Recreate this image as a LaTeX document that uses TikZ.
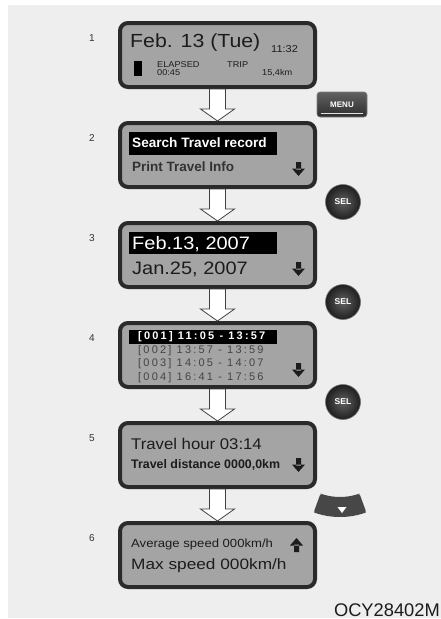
\documentclass[tikz,border=0pt]{standalone}
\usepackage{fontspec}
\setmainfont{Liberation Sans}
\newfontfamily\spacedfont[LetterSpace=20]{Liberation Sans}
\usetikzlibrary{calc,shadings}
\definecolor{bggray}{HTML}{EEEEEE}
\definecolor{lcdfill}{HTML}{A4A4A4}
\definecolor{lcdborder}{HTML}{2A2A2A}
\definecolor{ink}{HTML}{1C1C1C}
\definecolor{ink2}{HTML}{333333}
\definecolor{dimink}{HTML}{444444}
\newcommand\lcddown[2]{\fill[ink] (#1+4,#2) rectangle (#1+9,#2+7.5) (#1,#2+6.5) -- (#1+13,#2+6.5) -- (#1+6.5,#2+14) -- cycle;}
\newcommand\lcdup[2]{\fill[ink] (#1+6.5,#2) -- (#1+13,#2+7.5) -- (#1,#2+7.5) -- cycle (#1+4,#2+6.5) rectangle (#1+9,#2+14);}
\tikzset{
  lcd/.style={draw=lcdborder, line width=4pt, fill=lcdfill, rounded corners=8pt,
    minimum width=195pt, minimum height=64pt, inner sep=0pt},
  t/.style={anchor=base west, inner sep=0pt, text=ink},
  f/.style 2 args={font=\fontsize{#1}{#1}\selectfont, xscale=#2},
  numlbl/.style={inner sep=0pt, text=ink2, font=\fontsize{10}{10}\selectfont},
  hollowarr/.style={draw=black!75, fill=white, line width=0.8pt, line join=miter},
  selbtn/.style={circle, minimum size=35pt, inner sep=0pt, shading=radial,
    inner color=black!62, outer color=black!88, draw=black!55, line width=0.6pt,
    text=white, font=\bfseries\fontsize{8.5}{8.5}\selectfont},
  menubtn/.style={rectangle, rounded corners=3pt, minimum width=50pt, minimum height=25pt,
    inner sep=0pt, top color=black!62, bottom color=black!82, draw=black!50, line width=0.6pt,
    text=white, font=\bfseries\fontsize{8}{8}\selectfont},
}
\begin{document}
\begin{tikzpicture}[x=1pt, y=-1pt]
\useasboundingbox (0,0) rectangle (441,619);
\fill[white] (0,0) rectangle (441,619);
\fill[bggray] (8,5) rectangle (441,618);

% displays
\foreach \i/\cy in {1/55,2/155,3/255,4/355,5/455,6/555}{
  \node[lcd] (d\i) at (217.5,\cy) {};
}
% hollow arrows between displays
\foreach \a/\b in {d1/d2,d2/d3,d3/d4,d4/d5,d5/d6}{
  \draw[hollowarr] let \p1=(\a.south), \p2=(\b.north) in
    (\x1-8pt,\y1) -- (\x1-8pt,\y2+12pt) -- (\x1-17pt,\y2+12pt) -- (\x1,\y2)
    -- (\x1+17pt,\y2+12pt) -- (\x1+8pt,\y2+12pt) -- (\x1+8pt,\y1) -- cycle;
}

% step numbers
\node[numlbl] (n1) at (92,38) {1};
\node[numlbl] (n2) at (92,138) {2};
\node[numlbl] (n3) at (92,238) {3};
\node[numlbl] (n4) at (92,338) {4};
\node[numlbl] (n5) at (92,438) {5};
\node[numlbl] (n6) at (92,538) {6};

% display 1
\node[t, f={19}{1.12}] (t1a) at (130,47) {Feb. 13 (Tue)};
\node[t, f={10}{1.1}] (t1b) at (271,52) {11:32};
\fill[black] (134,61) rectangle (142,76);
\node[t, f={8.5}{1.08}] (t1c) at (157,67) {ELAPSED};
\node[t, f={8.5}{1.08}] (t1d) at (157,75.5) {00:45};
\node[t, f={8.5}{1.08}] (t1e) at (227,67) {TRIP};
\node[t, f={8.5}{1.08}] (t1f) at (262,75.5) {15,4km};

% display 2
\fill[black] (129,132) rectangle (277,155);
\node[t, text=white, font=\bfseries\fontsize{13.6}{13.6}\selectfont] (t2a) at (132,147.5) {Search Travel record};
\node[t, text=ink2, font=\bfseries\fontsize{13.5}{13.5}\selectfont] (t2b) at (132,171.5) {Print Travel Info};
\lcddown{292}{162}

% display 3
\fill[black] (129,232) rectangle (277,254);
\node[t, f={18}{1.11}, text=white] (t3a) at (132,249) {Feb.13, 2007};
\node[t, f={18}{1.11}] (t3b) at (132,274) {Jan.25, 2007};
\lcddown{292}{262}

% display 4
\fill[black] (129,330) rectangle (277,343.5);
\node[t, text=white, font=\spacedfont\bfseries\fontsize{11}{11}\selectfont] (t4a) at (138,339.5) {[001] 11:05 - 13:57};
\node[t, text=dimink, font=\spacedfont\fontsize{11}{11}\selectfont] (t4b) at (138,353) {[002] 13:57 - 13:59};
\node[t, text=dimink, font=\spacedfont\fontsize{11}{11}\selectfont] (t4c) at (138,366.5) {[003] 14:05 - 14:07};
\node[t, text=dimink, font=\spacedfont\fontsize{11}{11}\selectfont] (t4d) at (138,380) {[004] 16:41 - 17:56};
\lcddown{292}{363}

% display 5
\node[t, f={15.5}{1.08}] (t5a) at (131,449) {Travel hour 03:14};
\node[t, font=\bfseries\fontsize{12.4}{12.4}\selectfont] (t5b) at (131,468) {Travel distance 0000,0km};
\lcddown{292}{458}

% display 6
\node[t, f={11.8}{1.11}] (t6a) at (131,547) {Average speed 000km/h};
\node[t, f={15}{1.15}] (t6b) at (131,569) {Max speed 000km/h};
\lcdup{290}{538}

% buttons
\node[menubtn] (menu) at (342,104.5) {MENU};
\draw[white!75!gray, line width=0.7pt] ($(menu.south west)+(4,-3.5)$) -- ($(menu.south east)+(-4,-3.5)$);
\node[selbtn] (sel1) at (343,202) {SEL};
\node[selbtn] (sel2) at (343,302) {SEL};
\node[selbtn] (sel3) at (343,402) {SEL};

% navigation control
\fill[black!72, rounded corners=2pt] plot[domain=70:110, samples=24] ({340+77*cos(\x)},{440+77*sin(\x)})
  -- plot[domain=110:70, samples=24] ({340+57*cos(\x)},{440+57*sin(\x)}) -- cycle;
\fill[white] (337.5,507) -- (346.5,507) -- (342,513) -- cycle;

% code
\node[anchor=base east, inner sep=0pt, text=ink, font=\fontsize{18.3}{18.3}\selectfont] (code) at (440,616.5) {OCY28402M};
\end{tikzpicture}
\end{document}
